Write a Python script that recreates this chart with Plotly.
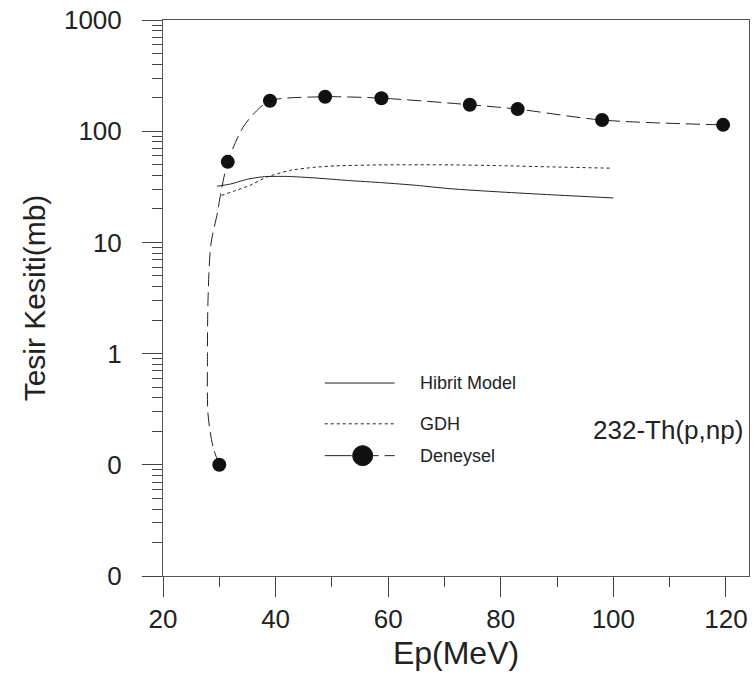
import plotly.graph_objects as go

# ---------------- data ----------------
exp_x = [30, 31.5, 39, 48.8, 58.8, 74.5, 83, 98, 119.5]
exp_y = [0.1, 53, 188, 204, 198, 173, 158, 126, 114]

fit_x = [30, 28.9, 28.0, 27.9, 28.0, 28.5, 29.7, 30.2, 31.5, 34.2, 36.6, 39, 48.8, 58.8, 74.5, 83, 98, 119.5]
fit_y = [0.1, 0.144, 0.285, 1.0, 3.1, 9.5, 18.8, 26.5, 53, 108, 152, 188, 204, 198, 173, 158, 126, 114]

hib_x = [29.6, 32, 35, 38, 42, 47, 53, 59, 65, 71, 80, 89, 100]
hib_y = [32, 33.5, 37, 39, 39.2, 38, 36, 34.4, 32.6, 30.4, 28.4, 26.8, 25.1]

gdh_x = [30.4, 33, 35.4, 38.4, 42.5, 47.2, 50.8, 59, 71, 80, 88.6, 99.6]
gdh_y = [26.5, 29.4, 32.5, 38.6, 44.4, 47.5, 48.8, 49.8, 49.8, 49, 47.8, 46.5]

x_ticks = [20, 40, 60, 80, 100, 120]
y_ticks = [0.01, 0.1, 1, 10, 100, 1000]
y_tick_text = ["0", "0", "1", "10", "100", "1000"]
y_minor = [k * 10.0 ** d for d in range(-2, 3) for k in range(2, 10)]

legend_labels = ["Hibrit Model", "GDH", "Deneysel"]
reaction_label = "232-Th(p,np)"

# ---------------- figure ----------------
INK = "#222222"
FONT = "Liberation Sans, Arial, sans-serif"

fig = go.Figure()
fig.add_trace(go.Scatter(x=hib_x, y=hib_y, mode="lines", name=legend_labels[0],
                         line=dict(color=INK, width=1, shape="spline", smoothing=0.6)))
fig.add_trace(go.Scatter(x=gdh_x, y=gdh_y, mode="lines", name=legend_labels[1],
                         line=dict(color=INK, width=1, dash="3px,3px", shape="spline", smoothing=0.6)))
fig.add_trace(go.Scatter(x=fit_x, y=fit_y, mode="lines", name="fit", showlegend=False,
                         line=dict(color=INK, width=1, dash="14px,6px", shape="spline", smoothing=0.8)))
fig.add_trace(go.Scatter(x=exp_x, y=exp_y, mode="markers", name=legend_labels[2],
                         marker=dict(color="#111111", size=14)))

W, H = 755, 679
ML, MR, MT, MB = 163, 5, 17, 103
PW, PH = W - ML - MR, H - MT - MB


def px(x):
    return (x - ML) / PW


def py(y):
    return (H - MB - y) / PH


shapes = []
# legend samples
shapes.append(dict(type="line", xref="paper", yref="paper", x0=px(325), x1=px(395),
                   y0=py(382), y1=py(382), line=dict(color=INK, width=1)))
shapes.append(dict(type="line", xref="paper", yref="paper", x0=px(325), x1=px(395),
                   y0=py(423), y1=py(423), line=dict(color=INK, width=1, dash="3px,3px")))
shapes.append(dict(type="line", xref="paper", yref="paper", x0=px(325), x1=px(352),
                   y0=py(455), y1=py(455), line=dict(color=INK, width=1)))
for a, b in [(370, 379), (385, 395)]:
    shapes.append(dict(type="line", xref="paper", yref="paper", x0=px(a), x1=px(b),
                       y0=py(455), y1=py(455), line=dict(color=INK, width=1)))
shapes.append(dict(type="circle", xref="paper", yref="paper",
                   xsizemode="pixel", ysizemode="pixel",
                   xanchor=px(363), yanchor=py(455), x0=-10, x1=10, y0=-10, y1=10,
                   fillcolor="#111111", line=dict(color="#111111", width=1)))

annotations = []
for lbl, yy in zip(legend_labels, [382, 423, 455]):
    annotations.append(dict(xref="paper", yref="paper", x=px(418), y=py(yy), text=lbl,
                            showarrow=False, xanchor="left", yanchor="middle",
                            font=dict(family=FONT, size=18, color=INK)))
annotations.append(dict(xref="paper", yref="paper", x=px(746), y=py(429), text=reaction_label,
                        showarrow=False, xanchor="right", yanchor="middle",
                        font=dict(family=FONT, size=26, color=INK)))

fig.update_layout(
    width=W, height=H, autosize=False,
    margin=dict(l=ML, r=MR, t=MT, b=MB, pad=0),
    paper_bgcolor="white", plot_bgcolor="white",
    showlegend=False,
    font=dict(family=FONT, color=INK),
    shapes=shapes, annotations=annotations,
)
fig.update_xaxes(
    range=[20, 124.1], tickmode="array", tickvals=x_ticks,
    ticks="outside", ticklen=20, tickwidth=1, tickcolor="#444",
    minor=dict(ticks="outside", ticklen=10, tick0=20, dtick=10, tickcolor="#444", showgrid=False),
    showgrid=False, zeroline=False,
    showline=True, linecolor="#555", linewidth=1, mirror=True,
    tickfont=dict(family=FONT, size=26, color=INK),
    title=dict(text="Ep(MeV)", font=dict(family=FONT, size=32, color=INK), standoff=8),
)
fig.update_yaxes(
    type="log", range=[-2, 3], tickmode="array", tickvals=y_ticks, ticktext=y_tick_text,
    ticks="outside", ticklen=20, tickwidth=1, tickcolor="#444",
    minor=dict(ticks="outside", ticklen=10, tickmode="array", tickvals=y_minor,
               tickcolor="#444", showgrid=False),
    showgrid=False, zeroline=False,
    showline=True, linecolor="#555", linewidth=1, mirror=True,
    ticklabelstandoff=15,
    tickfont=dict(family=FONT, size=26, color=INK),
    title=dict(text="Tesir Kesiti(mb)", font=dict(family=FONT, size=30, color=INK), standoff=9),
)

fig.write_html("out.html")
